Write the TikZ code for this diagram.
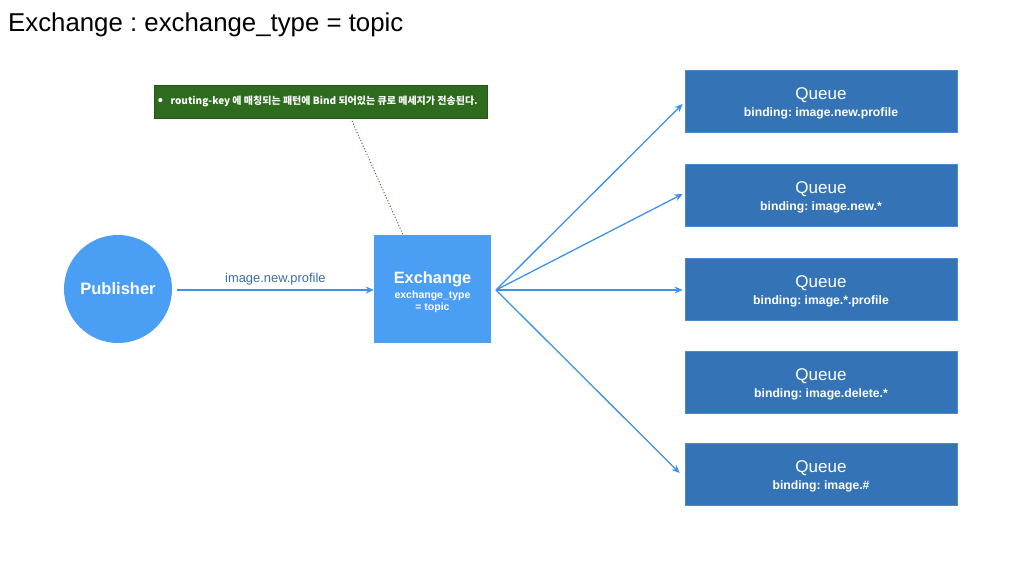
\documentclass[tikz,border=0pt]{standalone}
\usepackage{fontspec}
\setmainfont{Liberation Sans}
\newfontfamily\krfont{Noto Sans CJK KR}
\usetikzlibrary{arrows.meta}
\frenchspacing
\definecolor{pubblue}{HTML}{4A9FF5}
\definecolor{qblue}{HTML}{3373B6}
\definecolor{qedge}{HTML}{4A8AD0}
\definecolor{notegreen}{HTML}{2E6B1F}
\definecolor{dotgreen}{HTML}{35782A}
\definecolor{arrblue}{HTML}{3D92EC}
\definecolor{lblblue}{HTML}{3A6EA8}
\tikzset{
  queuebox/.style={draw=qedge, line width=0.8pt, fill=qblue, minimum width=272pt, minimum height=62pt, inner sep=0pt},
  queuetxt/.style={inner sep=0pt, text=white, align=center},
  flow/.style={draw=arrblue, line width=1.3pt, -{Stealth[length=8pt,width=7pt]}},
}
\newcommand{\queuetext}[1]{{\fontsize{17}{19}\selectfont Queue}\\[4.5pt]{\fontsize{12.2}{14}\selectfont\bfseries binding: #1}}
\begin{document}
\begin{tikzpicture}[x=1pt,y=-1pt]
\useasboundingbox (0,0) rectangle (1024,576);
\fill[white] (0,0) rectangle (1024,576);
\node[anchor=base west, inner sep=0pt, font=\fontsize{25.8}{30}\selectfont] (title) at (8,31) {Exchange : exchange\_type = topic};

\node[fill=notegreen, draw=notegreen!80!black, line width=0.6pt, minimum width=333pt, minimum height=33pt, inner sep=0pt] (note) at (320.5,101.5) {};
\node[anchor=west, inner sep=0pt, text=white, font=\krfont\bfseries\fontsize{10}{11}\selectfont] (notetxt) at ([xshift=4pt]note.west) {{\fontsize{13}{11}\selectfont\textbullet}\hspace{7.5pt}routing-key 에 매칭되는 패턴에 Bind 되어있는 큐로 메세지가 전송된다.};

\node[circle, fill=pubblue, minimum size=108pt, inner sep=0pt, text=white, font=\bfseries\fontsize{16.5}{20}\selectfont] (pub) at (118,289) {Publisher};

\node[fill=pubblue, minimum width=117pt, minimum height=108pt, inner sep=0pt] (ex) at (432.5,289) {};
\node[inner sep=0pt, text=white, align=center] (extxt) at ([yshift=-3pt]ex.center) {{\fontsize{16.4}{19}\selectfont\bfseries Exchange}\\[3pt]{\fontsize{10.5}{12}\selectfont\bfseries exchange\_type}\\{\fontsize{10.5}{12}\selectfont\bfseries = topic}};

\coordinate (noteend) at (352,121);
\draw[dotgreen, line width=1pt, dotted] (noteend) -- (ex.north west -| 403,235);

\node[queuebox] (q1) at (821,101) {};
\node[queuebox] (q2) at (821,195) {};
\node[queuebox] (q3) at (821,289) {};
\node[queuebox] (q4) at (821,382) {};
\node[queuebox] (q5) at (821,474) {};
\node[queuetxt] (t1) at ([yshift=-2.5pt]q1.center) {\queuetext{image.new.profile}};
\node[queuetxt] (t2) at ([yshift=-2.5pt]q2.center) {\queuetext{image.new.*}};
\node[queuetxt] (t3) at ([yshift=-2.5pt]q3.center) {\queuetext{image.*.profile}};
\node[queuetxt] (t4) at ([yshift=-2.5pt]q4.center) {\queuetext{image.delete.*}};
\node[queuetxt] (t5) at ([yshift=-2.5pt]q5.center) {\queuetext{image.\#}};

\draw[flow] (177,290) -- node[above=0.5pt, text=lblblue, font=\fontsize{12.9}{14}\selectfont] {image.new.profile} (ex.west |- 0,290);

\coordinate (fan) at (496,290);
\draw[flow] (fan) -- ([xshift=-2pt]q1.west |- 0,104);
\draw[flow] (fan) -- ([xshift=-2pt]q2.west |- 0,194);
\draw[flow] (fan) -- ([xshift=-2pt]q3.west |- 0,290);
\draw[flow] (fan) -- ([xshift=-5pt]q5.west |- 0,473);
\end{tikzpicture}
\end{document}
